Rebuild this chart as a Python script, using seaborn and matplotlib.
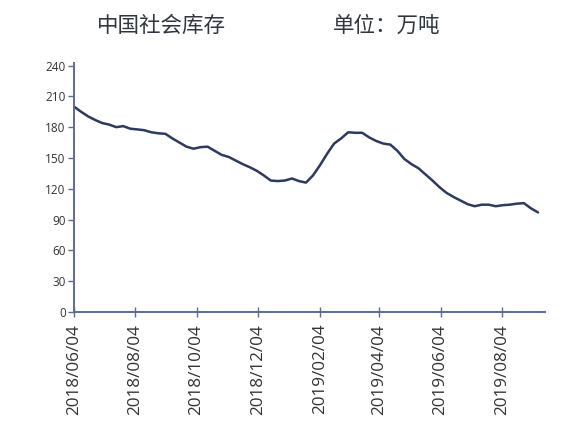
import matplotlib
matplotlib.use("Agg")
import matplotlib.pyplot as plt
import matplotlib.dates as mdates
import numpy as np
import pandas as pd
import seaborn as sns

# Weekly social inventory, 10k tonnes
start_date = "2018-06-04"
inventory = [
    200, 195, 190.5, 187, 184, 182.5, 180, 181, 178.5, 177.8,
    177, 175, 174, 173.5, 169, 165, 161, 159, 160.5, 161,
    157, 153, 151, 147.5, 144, 141, 137.5, 133, 128, 127.5,
    128, 130, 127.5, 126, 133, 143, 154, 164, 169, 175,
    174.5, 174.5, 170, 166.5, 164, 163, 157, 149, 144, 140,
    134, 128, 121.5, 116, 112, 108.5, 105, 103, 104.5, 104.5,
    103, 104, 104.5, 105.5, 106, 101, 97,
]
tick_dates = ["2018-06-04", "2018-08-04", "2018-10-04", "2018-12-04",
              "2019-02-04", "2019-04-04", "2019-06-04", "2019-08-04"]
y_ticks = [0, 30, 60, 90, 120, 150, 180, 210, 240]

title_left = "中国社会库存"
title_right = "单位：万吨"

df = pd.DataFrame({
    "date": pd.date_range(start_date, periods=len(inventory), freq="7D"),
    "value": inventory,
})

sns.set_theme(style="white")
plt.rcParams["font.family"] = ["Open Sans", "DejaVu Sans"]

fig = plt.figure(figsize=(5.8, 4.3), dpi=100)
ax = fig.add_axes([0.1276, 0.2744, 0.812, 0.578])

line_color = "#2c3a5e"
axis_color = "#5b6a99"
sns.lineplot(data=df, x="date", y="value", ax=ax, color=line_color, linewidth=1.8)

ax.set_ylim(0, 242)
ax.set_yticks(y_ticks)
ax.set_xlim(pd.Timestamp(start_date), pd.Timestamp(start_date) + pd.Timedelta(days=469))
ax.set_xticks(pd.to_datetime(tick_dates))
ax.xaxis.set_major_formatter(mdates.DateFormatter("%Y/%m/%d"))
plt.setp(ax.get_xticklabels(), rotation=90)

ax.set_xlabel("")
ax.set_ylabel("")
for side in ["top", "right"]:
    ax.spines[side].set_visible(False)
for side in ["left", "bottom"]:
    ax.spines[side].set_color(axis_color)
    ax.spines[side].set_linewidth(1.4)

ax.tick_params(axis="y", direction="out", length=4, width=1, color=axis_color,
               labelsize=8.5, labelcolor="#333333", pad=2, left=True)
ax.tick_params(axis="x", direction="inout", length=7, width=1, color=axis_color,
               labelsize=12.3, labelcolor="#333333", pad=5, bottom=True)

cjk = ["Noto Sans CJK SC", "DejaVu Sans"]
fig.text(97 / 580, 1 - 26 / 430, title_left, family=cjk, fontsize=15.5,
         color="#2f3640", ha="left", va="center")
fig.text(333 / 580, 1 - 26 / 430, title_right, family=cjk, fontsize=15.5,
         color="#2f3640", ha="left", va="center")

fig.savefig("out.png", dpi=100, facecolor="white")
